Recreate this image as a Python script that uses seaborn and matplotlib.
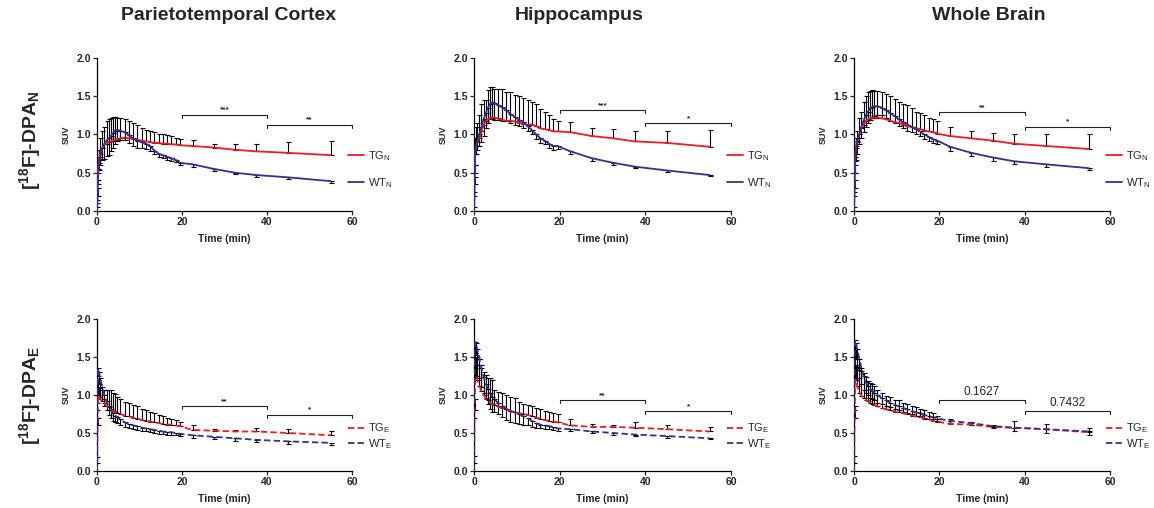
import numpy as np
import matplotlib
matplotlib.use("Agg")
import matplotlib.pyplot as plt
import seaborn as sns
import pandas as pd

# frame mid-times (min)
time_min = [0, 0.05, 0.15, 0.25, 0.5, 0.75, 1.25, 1.75, 2.25, 2.75, 3.25, 3.75, 4.25, 4.75, 5.5,
            6.5, 7.5, 8.5, 9.5, 10.5, 11.5, 12.5, 13.5, 14.5, 15.5, 16.5, 17.5, 18.5, 19.5,
            22.5, 27.5, 32.5, 37.5, 45, 55]

regions = ["Parietotemporal Cortex", "Hippocampus", "Whole Brain"]

# ---- [18F]-DPA_N (native) ----
pt_tg_n = [0, 0.15, 0.4, 0.55, 0.68, 0.75, 0.83, 0.87, 0.88, 0.90, 0.91, 0.92, 0.93, 0.94, 0.95,
           0.96, 0.95, 0.94, 0.93, 0.92, 0.91, 0.90, 0.89, 0.89, 0.88, 0.88, 0.87, 0.87, 0.86,
           0.85, 0.83, 0.80, 0.78, 0.76, 0.73]
pt_tg_n_sd = [0, 0.05, 0.15, 0.15, 0.12, 0.2, 0.22, 0.23, 0.3, 0.3, 0.31, 0.31, 0.30, 0.28, 0.26,
              0.24, 0.22, 0.21, 0.19, 0.17, 0.15, 0.14, 0.14, 0.12, 0.12, 0.11, 0.11, 0.09, 0.08,
              0.08, 0.05, 0.07, 0.10, 0.14, 0.18]
pt_wt_n = [0, 0.1, 0.3, 0.5, 0.63, 0.7, 0.82, 0.88, 0.92, 0.95, 0.98, 1.02, 1.05, 1.06, 1.05,
           1.03, 0.99, 0.95, 0.92, 0.90, 0.88, 0.85, 0.79, 0.75, 0.73, 0.71, 0.69, 0.67, 0.63,
           0.61, 0.55, 0.50, 0.47, 0.44, 0.39]
pt_wt_n_sd = [0, 0.05, 0.1, 0.15, 0.1, 0.1, 0.15, 0.2, 0.2, 0.22, 0.2, 0.2, 0.18, 0.15, 0.12,
              0.1, 0.1, 0.1, 0.09, 0.08, 0.07, 0.06, 0.05, 0.05, 0.04, 0.04, 0.03, 0.03, 0.03,
              0.03, 0.03, 0.02, 0.02, 0.02, 0.02]

hc_tg_n = [0, 0.2, 0.5, 0.75, 0.85, 0.9, 0.95, 1.05, 1.12, 1.18, 1.2, 1.22, 1.22, 1.22, 1.21,
           1.19, 1.18, 1.18, 1.17, 1.15, 1.14, 1.13, 1.13, 1.11, 1.08, 1.07, 1.06, 1.04, 1.04,
           1.03, 0.98, 0.95, 0.91, 0.89, 0.84]
hc_tg_n_sd = [0, 0.05, 0.1, 0.2, 0.25, 0.25, 0.3, 0.35, 0.33, 0.27, 0.38, 0.40, 0.40, 0.38, 0.39,
              0.41, 0.38, 0.37, 0.35, 0.35, 0.34, 0.32, 0.29, 0.29, 0.25, 0.23, 0.19, 0.16, 0.14,
              0.13, 0.11, 0.12, 0.14, 0.16, 0.22]
hc_wt_n = [0, 0.05, 0.45, 0.75, 0.85, 0.9, 1.0, 1.1, 1.2, 1.28, 1.35, 1.40, 1.42, 1.41, 1.39,
           1.36, 1.32, 1.27, 1.23, 1.19, 1.16, 1.11, 1.06, 1.0, 0.95, 0.92, 0.88, 0.85, 0.85,
           0.78, 0.69, 0.63, 0.58, 0.53, 0.47]
hc_wt_n_sd = [0, 0.05, 0.1, 0.15, 0.1, 0.1, 0.15, 0.2, 0.22, 0.2, 0.2, 0.2, 0.22, 0.22, 0.2,
              0.18, 0.15, 0.12, 0.1, 0.08, 0.07, 0.06, 0.06, 0.06, 0.06, 0.05, 0.05, 0.05, 0.04,
              0.04, 0.03, 0.03, 0.02, 0.02, 0.01]

wb_tg_n = [0, 0.2, 0.5, 0.7, 0.85, 0.92, 1.0, 1.08, 1.13, 1.17, 1.2, 1.21, 1.22, 1.22, 1.22,
           1.21, 1.2, 1.18, 1.16, 1.15, 1.13, 1.11, 1.1, 1.08, 1.07, 1.05, 1.04, 1.03, 1.01,
           0.98, 0.95, 0.92, 0.88, 0.85, 0.81]
wb_tg_n_sd = [0, 0.05, 0.1, 0.15, 0.1, 0.13, 0.22, 0.22, 0.29, 0.33, 0.35, 0.36, 0.36, 0.35, 0.35,
              0.34, 0.33, 0.32, 0.31, 0.28, 0.27, 0.27, 0.24, 0.22, 0.21, 0.2, 0.18, 0.17, 0.16,
              0.12, 0.10, 0.10, 0.13, 0.15, 0.20]
wb_wt_n = [0, 0.05, 0.4, 0.65, 0.82, 0.9, 1.0, 1.1, 1.18, 1.25, 1.3, 1.34, 1.36, 1.37, 1.37,
           1.35, 1.32, 1.28, 1.24, 1.2, 1.16, 1.13, 1.1, 1.07, 1.04, 1.0, 0.97, 0.94, 0.92,
           0.84, 0.76, 0.70, 0.65, 0.61, 0.56]
wb_wt_n_sd = [0, 0.05, 0.1, 0.15, 0.15, 0.15, 0.12, 0.15, 0.15, 0.15, 0.15, 0.15, 0.15, 0.13, 0.12,
              0.1, 0.1, 0.1, 0.09, 0.09, 0.08, 0.08, 0.07, 0.07, 0.06, 0.06, 0.06, 0.05, 0.05,
              0.05, 0.04, 0.04, 0.03, 0.03, 0.02]

# ---- [18F]-DPA_E ----
pt_tg_e = [0, 0.1, 0.6, 1.0, 0.97, 0.95, 0.92, 0.89, 0.86, 0.84, 0.81, 0.79, 0.77, 0.76, 0.75,
           0.73, 0.72, 0.70, 0.69, 0.67, 0.66, 0.65, 0.64, 0.63, 0.62, 0.61, 0.61, 0.60, 0.59,
           0.54, 0.53, 0.52, 0.52, 0.50, 0.47]
pt_tg_e_sd = [0, 0.08, 0.1, 0.1, 0.12, 0.15, 0.15, 0.18, 0.2, 0.22, 0.25, 0.24, 0.24, 0.22, 0.2,
              0.18, 0.17, 0.17, 0.16, 0.15, 0.14, 0.13, 0.12, 0.11, 0.10, 0.09, 0.08, 0.07, 0.06,
              0.06, 0.02, 0.02, 0.04, 0.05, 0.06]
pt_wt_e = [0, 0.9, 1.2, 1.35, 1.3, 1.22, 1.1, 1.0, 0.92, 0.86, 0.8, 0.76, 0.73, 0.71, 0.68,
           0.64, 0.62, 0.60, 0.59, 0.57, 0.56, 0.55, 0.54, 0.53, 0.52, 0.51, 0.51, 0.50, 0.49,
           0.47, 0.45, 0.43, 0.41, 0.39, 0.37]
pt_wt_e_sd = [0, 0.1, 0.1, 0.1, 0.15, 0.15, 0.15, 0.15, 0.12, 0.12, 0.1, 0.1, 0.08, 0.08, 0.07,
              0.06, 0.06, 0.05, 0.05, 0.05, 0.04, 0.04, 0.04, 0.04, 0.03, 0.03, 0.03, 0.03, 0.03,
              0.03, 0.03, 0.03, 0.03, 0.04, 0.03]

hc_tg_e = [0, 0.1, 0.8, 1.2, 1.25, 1.2, 1.12, 1.05, 1.0, 0.96, 0.93, 0.9, 0.88, 0.87, 0.85,
           0.83, 0.81, 0.79, 0.77, 0.76, 0.75, 0.74, 0.72, 0.70, 0.69, 0.67, 0.66, 0.65, 0.64,
           0.60, 0.58, 0.58, 0.57, 0.55, 0.52]
hc_tg_e_sd = [0, 0.1, 0.15, 0.2, 0.25, 0.3, 0.35, 0.35, 0.3, 0.3, 0.29, 0.32, 0.32, 0.2, 0.19,
              0.19, 0.19, 0.19, 0.19, 0.15, 0.13, 0.13, 0.13, 0.13, 0.13, 0.12, 0.11, 0.11, 0.11,
              0.09, 0.04, 0.02, 0.07, 0.05, 0.06]
hc_wt_e = [0, 0.8, 1.55, 1.7, 1.68, 1.6, 1.48, 1.35, 1.24, 1.15, 1.08, 1.02, 0.98, 0.95, 0.9,
           0.86, 0.82, 0.79, 0.77, 0.75, 0.72, 0.70, 0.66, 0.63, 0.61, 0.60, 0.59, 0.58, 0.56,
           0.55, 0.52, 0.50, 0.48, 0.46, 0.43]
hc_wt_e_sd = [0, 0.1, 0.2, 0.15, 0.15, 0.2, 0.25, 0.25, 0.22, 0.2, 0.2, 0.2, 0.2, 0.18, 0.15,
              0.15, 0.15, 0.15, 0.14, 0.13, 0.12, 0.1, 0.08, 0.06, 0.05, 0.05, 0.04, 0.04, 0.04,
              0.03, 0.02, 0.02, 0.02, 0.02, 0.01]

wb_tg_e = [0, 0.1, 0.7, 1.2, 1.2, 1.12, 1.03, 0.99, 0.96, 0.94, 0.92, 0.9, 0.88, 0.87, 0.85,
           0.83, 0.81, 0.80, 0.78, 0.77, 0.76, 0.75, 0.73, 0.72, 0.71, 0.69, 0.68, 0.66, 0.65,
           0.62, 0.61, 0.58, 0.57, 0.55, 0.51]
wb_tg_e_sd = [0, 0.1, 0.15, 0.15, 0.2, 0.25, 0.3, 0.33, 0.33, 0.3, 0.27, 0.26, 0.26, 0.25, 0.22,
              0.2, 0.18, 0.17, 0.16, 0.16, 0.14, 0.13, 0.13, 0.12, 0.11, 0.11, 0.1, 0.1, 0.08,
              0.06, 0.03, 0.02, 0.09, 0.07, 0.06]
wb_wt_e = [0, 0.8, 1.55, 1.72, 1.68, 1.6, 1.48, 1.35, 1.25, 1.17, 1.12, 1.08, 1.05, 1.03, 1.0,
           0.96, 0.93, 0.9, 0.87, 0.85, 0.83, 0.81, 0.79, 0.77, 0.76, 0.74, 0.72, 0.71, 0.69,
           0.66, 0.63, 0.59, 0.57, 0.55, 0.52]
wb_wt_e_sd = [0, 0.1, 0.2, 0.2, 0.2, 0.25, 0.25, 0.2, 0.18, 0.15, 0.12, 0.12, 0.1, 0.1, 0.1,
              0.08, 0.07, 0.06, 0.06, 0.05, 0.05, 0.05, 0.04, 0.04, 0.04, 0.04, 0.03, 0.03, 0.03,
              0.03, 0.02, 0.02, 0.05, 0.05, 0.04]

# significance brackets: (height 20-40, height 40-60), labels
bracket_y_n = [(1.26, 1.13), (1.32, 1.15), (1.29, 1.10)]
bracket_lab_n = [("***", "**"), ("***", "*"), ("**", "*")]
bracket_y_e = [(0.855, 0.74), (0.93, 0.79), (0.93, 0.79)]
bracket_lab_e = [("**", "*"), ("**", "*"), ("0.1627", "0.7432")]

rows = [
    dict(data=[(pt_tg_n, pt_tg_n_sd, pt_wt_n, pt_wt_n_sd),
               (hc_tg_n, hc_tg_n_sd, hc_wt_n, hc_wt_n_sd),
               (wb_tg_n, wb_tg_n_sd, wb_wt_n, wb_wt_n_sd)],
         by=bracket_y_n, bl=bracket_lab_n, sub="N", ls="-"),
    dict(data=[(pt_tg_e, pt_tg_e_sd, pt_wt_e, pt_wt_e_sd),
               (hc_tg_e, hc_tg_e_sd, hc_wt_e, hc_wt_e_sd),
               (wb_tg_e, wb_tg_e_sd, wb_wt_e, wb_wt_e_sd)],
         by=bracket_y_e, bl=bracket_lab_e, sub="E", ls="--"),
]

RED = "#ee1c25"
BLUE = "#35308f"

sns.set_style("ticks")
plt.rcParams['font.family'] = ['Liberation Sans', 'DejaVu Sans']
plt.rcParams['mathtext.fontset'] = 'custom'
plt.rcParams['mathtext.rm'] = 'Liberation Sans'
plt.rcParams['mathtext.bf'] = 'Liberation Sans:bold'

fig = plt.figure(figsize=(11.54, 5.08), dpi=100)
W, H = 1154, 508
lefts = [97, 474, 854]
widths = [255, 257, 256]
row_y = [(58, 211), (319, 471)]
title_x = [229, 579, 989]
t = np.array(time_min)


def style_line(ln, ls):
    ln.set_linewidth(1.3)
    ln.set_linestyle(ls)
    if ls == "--":
        ln.set_dashes((3.5, 1.8))


for r, row in enumerate(rows):
    top, bot = row_y[r]
    for c in range(3):
        ax = fig.add_axes([lefts[c] / W, 1 - bot / H, widths[c] / W, (bot - top) / H])
        tg, tg_sd, wt, wt_sd = [np.array(a) for a in row["data"][c]]
        m = tg_sd > 0
        ax.errorbar(t[m], tg[m], yerr=[np.zeros(m.sum()), tg_sd[m]], fmt="none",
                    ecolor="black", elinewidth=0.8, capsize=1.8, capthick=0.8, zorder=2)
        m = wt_sd > 0
        ax.errorbar(t[m], wt[m], yerr=[wt_sd[m], np.zeros(m.sum())], fmt="none",
                    ecolor="black", elinewidth=0.8, capsize=1.8, capthick=0.8, zorder=2)
        df = pd.DataFrame({"t": np.concatenate([t, t]),
                           "suv": np.concatenate([tg, wt]),
                           "grp": [f"TG$_\\mathrm{{{row['sub']}}}$"] * len(t) +
                                  [f"WT$_\\mathrm{{{row['sub']}}}$"] * len(t)})
        n0 = len(ax.lines)
        sns.lineplot(data=df, x="t", y="suv", hue="grp", palette=[RED, BLUE], ax=ax,
                     zorder=3, legend=True)
        for ln in ax.lines[n0:]:
            style_line(ln, row["ls"])

        # brackets
        for k, (x0, x1) in enumerate([(20, 40), (40, 60)]):
            yb = row["by"][c][k]
            lab = row["bl"][c][k]
            ax.plot([x0, x0, x1, x1], [yb - 0.04, yb, yb, yb - 0.04], color="#222222",
                    lw=0.8, clip_on=False)
            if lab.startswith("*"):
                ax.text((x0 + x1) / 2, yb + 0.015, lab, ha="center", va="bottom",
                        fontsize=6, fontweight="bold")
            else:
                ax.text((x0 + x1) / 2, yb + 0.03, lab, ha="center", va="bottom", fontsize=8.5)

        ax.set_xlim(0, 60)
        ax.set_ylim(0, 2.0)
        ax.set_xticks([0, 20, 40, 60])
        ax.set_yticks([0, 0.5, 1.0, 1.5, 2.0])
        ax.set_yticklabels(["0.0", "0.5", "1.0", "1.5", "2.0"])
        ax.tick_params(direction="out", length=3, width=0.9, labelsize=7.5, pad=1.5)
        for lab in ax.get_xticklabels() + ax.get_yticklabels():
            lab.set_fontweight("bold")
        ax.set_xlabel("Time (min)", fontsize=7.5, fontweight="bold", labelpad=5)
        ax.set_ylabel("SUV", fontsize=6.5, fontweight="bold", labelpad=4)
        sns.despine(ax=ax)
        for s in ["left", "bottom"]:
            ax.spines[s].set_linewidth(0.9)
            ax.spines[s].set_color("black")

        if r == 0:
            leg = ax.legend(loc="center left", bbox_to_anchor=(0.985, 0.27), frameon=False,
                            handlelength=1.4, labelspacing=1.2, fontsize=8,
                            handletextpad=0.4, borderpad=0, borderaxespad=0)
        else:
            leg = ax.legend(loc="center left", bbox_to_anchor=(0.985, 0.23), frameon=False,
                            handlelength=1.4, labelspacing=0.15, fontsize=8,
                            handletextpad=0.4, borderpad=0, borderaxespad=0)
        for h in leg.get_lines():
            style_line(h, row["ls"])

        if r == 0:
            fig.text(title_x[c] / W, 1 - 16 / H, regions[c], ha="center", va="center",
                     fontsize=14, fontweight="bold")

fig.text(30 / W, 1 - 140 / H, r"[$\mathbf{^{18}}$F]-DPA$\mathbf{_N}$", rotation=90,
         ha="center", va="center", fontsize=14, fontweight="bold")
fig.text(30 / W, 1 - 395 / H, r"[$\mathbf{^{18}}$F]-DPA$\mathbf{_E}$", rotation=90,
         ha="center", va="center", fontsize=14, fontweight="bold")

fig.savefig("out.png", dpi=100)
